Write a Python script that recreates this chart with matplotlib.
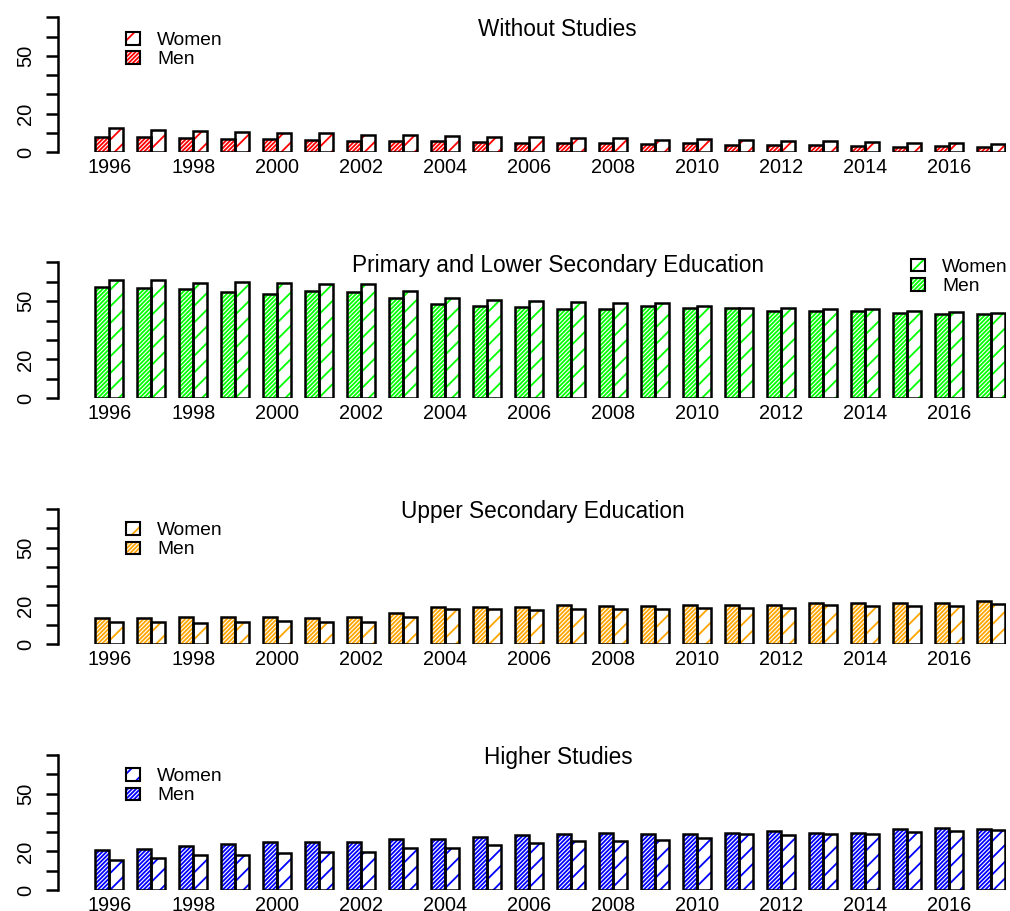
import matplotlib
matplotlib.use('Agg')
import matplotlib.pyplot as plt
from matplotlib.patches import Rectangle

plt.rcParams['font.family'] = ['Liberation Sans', 'DejaVu Sans']
plt.rcParams['hatch.linewidth'] = 1.3

years = list(range(1996, 2018))

# share of population (%) by education level
men_without = [8.1, 8.1, 7.3, 6.9, 6.7, 6.4, 6.0, 6.0, 5.7, 5.5, 5.0,
               5.0, 4.7, 4.3, 4.7, 3.9, 3.9, 3.9, 3.3, 2.9, 3.3, 2.9]
women_without = [12.4, 11.5, 11.2, 10.5, 9.8, 9.8, 9.1, 8.8, 8.4, 7.8, 7.8,
                 7.3, 7.3, 6.4, 6.7, 6.4, 6.0, 5.7, 5.3, 5.0, 4.7, 4.3]

men_primary = [57.4, 56.6, 56.2, 54.9, 53.5, 55.2, 54.5, 51.5, 48.4, 47.7, 47.0,
               45.8, 46.1, 47.5, 46.6, 46.3, 45.1, 45.1, 44.9, 43.7, 43.2, 43.2]
women_primary = [60.7, 60.7, 59.5, 59.7, 59.2, 58.7, 58.8, 55.2, 51.8, 50.6, 50.1,
                 49.7, 48.9, 48.9, 47.3, 46.3, 46.6, 45.8, 46.0, 44.9, 44.6, 43.7]

men_upper = [13.6, 13.6, 14.0, 14.0, 14.0, 13.6, 14.0, 16.2, 19.4, 19.4, 19.4,
             20.0, 19.7, 19.7, 20.0, 20.2, 20.2, 21.1, 21.4, 21.4, 21.4, 22.4]
women_upper = [11.4, 11.4, 11.0, 11.4, 11.8, 11.4, 11.6, 14.2, 18.0, 18.0, 17.6,
               18.0, 18.3, 18.1, 18.8, 18.8, 18.8, 20.0, 19.7, 19.7, 19.7, 20.7]

men_higher = [20.9, 21.3, 22.6, 23.8, 24.9, 24.7, 25.0, 26.3, 26.3, 27.3, 28.5,
              29.0, 29.4, 28.9, 29.0, 29.4, 30.6, 29.7, 29.7, 31.6, 32.0, 31.6]
women_higher = [15.6, 16.4, 18.1, 18.1, 19.0, 19.5, 19.9, 21.6, 21.9, 23.3, 24.2,
                25.4, 25.4, 25.9, 27.1, 28.9, 28.5, 28.9, 29.0, 30.2, 30.6, 30.9]

titles = ['Without Studies', 'Primary and Lower Secondary Education',
          'Upper Secondary Education', 'Higher Studies']
colors = ['#FF0000', '#00FF00', '#FFA500', '#0000FF']
legend_labels = ['Women', 'Men']

W, H = 1010, 911
fig = plt.figure(figsize=(W / 100, H / 100), dpi=100)

# pixel layout: (baseline y, top y, title x, title y, legend x, women swatch top y)
layout = [
    (152.3, 17.3, 557, 29.5, 126, 32),
    (398.3, 262.3, 558, 265.5, 911, 258.5),
    (644.0, 509.0, 543, 511.5, 126, 522),
    (890.0, 755.0, 558, 757.5, 126, 768),
]
data = [(men_without, women_without), (men_primary, women_primary),
        (men_upper, women_upper), (men_higher, women_higher)]

DENSE = '/' * 8
SPARSE = '//'
LW = 1.8
x_left, x_right = 58.3, 1005.7

for i, ((men, women), col) in enumerate(zip(data, colors)):
    base, top, tx, ty, lx, ly = layout[i]
    ax = fig.add_axes([x_left / W, (H - base) / H, (x_right - x_left) / W, (base - top) / H])
    n = len(years)
    xm = [1.5 + 3 * k for k in range(n)]
    xw = [2.5 + 3 * k for k in range(n)]
    # hatch layer then black borders
    ax.bar(xm, men, width=1, facecolor='white', edgecolor=col, linewidth=0, hatch=DENSE)
    ax.bar(xw, women, width=1, facecolor='white', edgecolor=col, linewidth=0, hatch=SPARSE)
    ax.bar(xm, men, width=1, fill=False, edgecolor='black', linewidth=LW)
    ax.bar(xw, women, width=1, fill=False, edgecolor='black', linewidth=LW)

    ax.set_xlim(-1.64, 66.05)
    ax.set_ylim(0, 70)
    for s in ['top', 'right', 'bottom']:
        ax.spines[s].set_visible(False)
    ax.spines['left'].set_linewidth(LW)
    ax.set_yticks(range(0, 71, 10))
    ax.set_yticklabels(['0', '', '20', '', '', '50', '', ''], rotation=90, va='center')
    ax.tick_params(axis='y', length=8.4, width=LW, pad=8.5, labelsize=14.5)
    xt = [2 + 3 * k for k in range(0, n, 2)]
    ax.set_xticks(xt)
    ax.set_xticklabels([str(years[k]) for k in range(0, n, 2)])
    ax.tick_params(axis='x', length=0, pad=4.2, labelsize=14.3)

    fig.text(tx / W, 1 - ty / H, titles[i], ha='center', va='center', fontsize=16.3)

    # legend: Women (sparse hatch) on top, Men (dense hatch) below
    for j, (lab, hatch) in enumerate(zip(legend_labels, [SPARSE, DENSE])):
        y0 = ly + j * 19.5
        for fill_kw in [dict(facecolor='white', edgecolor=col, linewidth=0, hatch=hatch),
                        dict(fill=False, edgecolor='black', linewidth=1.5)]:
            fig.add_artist(Rectangle((lx / W, 1 - (y0 + 12.5) / H), 14 / W, 12.5 / H,
                                     transform=fig.transFigure, **fill_kw))
        fig.text((lx + 31) / W, 1 - (y0 + 8.5) / H, lab, ha='left', va='center', fontsize=13.8)

fig.savefig('out.png', dpi=100)
